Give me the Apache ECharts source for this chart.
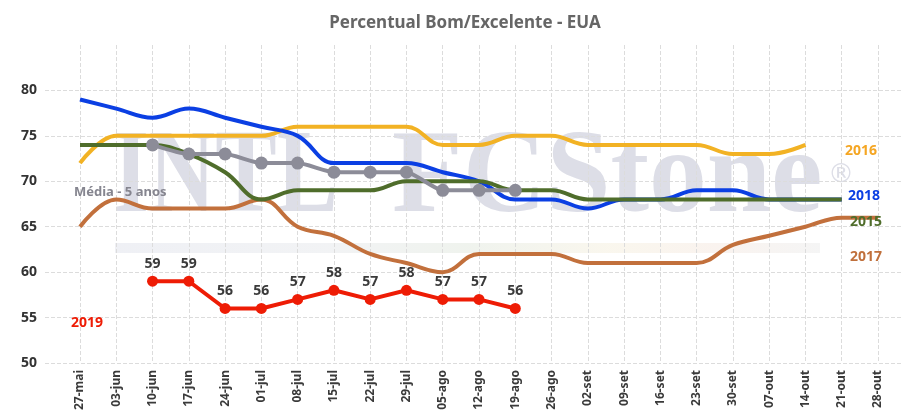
<!DOCTYPE html>
<html>
<head>
<meta charset="utf-8">
<script src="https://cdn.jsdelivr.net/npm/echarts@6/dist/echarts.min.js"></script>
<style>
    html,body{margin:0;padding:0;background:#fff;}
    #chart{width:902px;height:419px;}
</style>
</head>
<body>
<div id="chart"></div>
<script>
// semanas
var categories = ['27-mai','03-jun','10-jun','17-jun','24-jun','01-jul','08-jul','15-jul','22-jul','29-jul','05-ago','12-ago','19-ago','26-ago','02-set','09-set','16-set','23-set','30-set','07-out','14-out','21-out','28-out'];
// percentual bom/excelente por safra
var s2016 = [72,75,75,75,75,75,76,76,76,76,74,74,75,75,74,74,74,74,73,73,74];
var s2018 = [79,78,77,78,77,76,75,72,72,72,71,70,68,68,67,68,68,69,69,68,68,68];
var s2015 = [74,74,74,73,71,68,69,69,69,70,70,70,69,69,68,68,68,68,68,68,68,68];
var s2017 = [65,68,67,67,67,68,65,64,62,61,60,62,62,62,61,61,61,61,63,64,65,66,66];
var media = ['-','-',74,73,73,72,72,71,71,71,69,69,69];
var s2019 = ['-','-',59,59,56,56,57,58,57,58,57,57,56];
var yTicks = {min:50, max:85, interval:5};

var font = 'Noto Sans';

function lineSerie(name, data, color, smooth){
    return {
        name: name,
        type: 'line',
        data: data,
        smooth: smooth,
        showSymbol: false,
        symbol: 'none',
        lineStyle: {color: color, width: 4},
        itemStyle: {color: color}
    };
}

function label(text, x, y, color, size){
    return {
        type: 'text',
        x: x,
        y: y,
        z: 10,
        style: {
            text: text,
            fill: color,
            font: 'bold ' + size + 'px "' + font + '"',
            align: 'left',
            verticalAlign: 'middle'
        }
    };
}

var myChart = echarts.init(document.getElementById('chart'));

var option = {
    animation: false,
    backgroundColor: '#fff',
    grid: [
        {left: 80, right: 24, top: 45, bottom: 56},
        {left: 45, right: 0, top: 45, bottom: 56}
    ],
    xAxis: [
        {
            type: 'category',
            gridIndex: 0,
            data: categories,
            boundaryGap: false,
            axisLine: {show: false},
            axisTick: {show: false},
            axisLabel: {rotate: 90, color: '#3a3a3a', fontWeight: 'bold', fontSize: 12, fontFamily: font, margin: 7, interval: 0},
            splitLine: {show: true, interval: 0, lineStyle: {color: '#dcdcdc', type: 'dashed'}}
        },
        {
            type: 'value',
            gridIndex: 1,
            show: false,
            min: 0,
            max: 1
        }
    ],
    yAxis: [
        {
            type: 'value',
            gridIndex: 0,
            min: yTicks.min,
            max: yTicks.max,
            interval: yTicks.interval,
            show: false,
            splitLine: {show: false}
        },
        {
            type: 'value',
            gridIndex: 1,
            min: yTicks.min,
            max: yTicks.max,
            interval: yTicks.interval,
            axisLine: {show: false},
            axisTick: {show: false},
            axisLabel: {color: '#333', fontWeight: 'bold', fontSize: 14, fontFamily: font, margin: 8, showMaxLabel: false},
            splitLine: {show: true, showMaxLine: false, lineStyle: {color: '#dcdcdc', type: 'dashed'}}
        }
    ],
    graphic: [
        // marca d'agua
        {type: 'text', x: 113, y: 240, z: -1, scaleX: 0.78, style: {text: 'INTL', fill: '#dddee7', font: 'bold 118px "Liberation Serif"', align: 'left', verticalAlign: 'bottom'}},
        {type: 'text', x: 392, y: 240, z: -1, scaleX: 0.98, style: {text: 'FCStone', fill: '#dddee7', font: 'bold 118px "Liberation Serif"', align: 'left', verticalAlign: 'bottom'}},
        {type: 'text', x: 828, y: 175, z: -1, style: {text: '\u00AE', fill: '#dddee7', font: '26px "DejaVu Sans"', align: 'left', verticalAlign: 'middle'}},
        {type: 'rect', z: -1, shape: {x: 115, y: 243, width: 705, height: 10}, style: {opacity: 0.6, fill: new echarts.graphic.LinearGradient(0, 0, 1, 0, [
            {offset: 0, color: '#e4e6ee'}, {offset: 0.3, color: '#e9ebee'}, {offset: 0.5, color: '#e5ebe2'},
            {offset: 0.7, color: '#f6f1e2'}, {offset: 0.85, color: '#f6ebe4'}, {offset: 1, color: '#eeeeee'}])}},
        // titulo
        {type: 'text', x: 465, y: 23, z: 10, style: {text: 'Percentual Bom/Excelente - EUA', fill: '#666', font: 'bold 17px "' + font + '"', align: 'center', verticalAlign: 'middle'}},
        // legendas nas linhas
        label('Média - 5 anos', 74, 192, '#85858f', 13),
        label('2016', 845, 151, '#f5a623', 14),
        label('2018', 848, 196, '#0b3fe3', 14),
        label('2015', 850, 222, '#4f6d2b', 14),
        label('2017', 850, 257, '#c0703c', 14),
        label('2019', 71, 323, '#ee1c05', 14)
    ],
    series: [
        lineSerie('2017', s2017, '#c2703c', 0.4),
        lineSerie('2016', s2016, '#f2b224', 0.4),
        lineSerie('2018', s2018, '#0b3fe3', 0.4),
        lineSerie('2015', s2015, '#4f6d2b', 0.4),
        {
            name: 'Média - 5 anos',
            type: 'line',
            data: media,
            smooth: 0.2,
            symbol: 'circle',
            symbolSize: 13,
            lineStyle: {color: '#8c8c98', width: 4},
            itemStyle: {color: '#8c8c98'}
        },
        {
            name: '2019',
            type: 'line',
            data: s2019,
            symbol: 'circle',
            symbolSize: 11,
            lineStyle: {color: '#ee1c05', width: 4},
            itemStyle: {color: '#ee1c05'},
            label: {show: true, position: 'top', distance: 5, color: '#3a3a3a', fontWeight: 'bold', fontSize: 14, fontFamily: font}
        }
    ]
};

myChart.setOption(option);
</script>
</body>
</html>
